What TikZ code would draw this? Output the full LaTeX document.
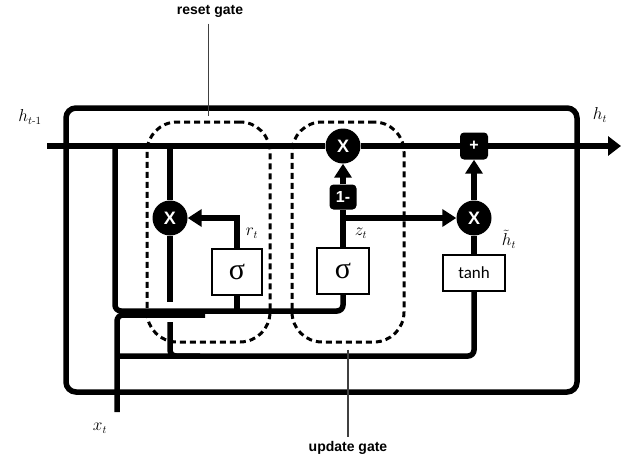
\documentclass[tikz,border=0pt]{standalone}
\usepackage{amsmath}
\usepackage{fontspec}
\setsansfont{Liberation Sans}
\newfontfamily\tanhfont{Carlito}
\newfontfamily\sigfont{Liberation Serif}
\usetikzlibrary{arrows.meta,positioning,calc}

\begin{document}
\begin{tikzpicture}[x=1pt,y=-1pt,>={Triangle[length=14pt,width=17pt]},
  wire/.style={line width=5.5pt},
  lead/.style={line width=1.3pt,black!75},
  gbox/.style={draw,line width=2.4pt,fill=white,inner sep=0pt},
  mul/.style={circle,fill=black,text=white,minimum size=35pt,inner sep=0pt,
              font=\sffamily\bfseries\fontsize{18}{18}\selectfont},
  op/.style={rounded corners=4pt,fill=black,text=white,inner sep=0pt,
             font=\sffamily\bfseries\fontsize{16}{16}\selectfont},
  gate/.style={draw,dash pattern=on 6pt off 4pt,line width=3pt,
               rounded corners=30pt,inner sep=0pt,minimum height=220pt},
  sig/.style={gbox,minimum height=46pt,font=\sigfont\fontsize{30}{30}\selectfont},
  lbl/.style={font=\fontsize{16}{16}\selectfont},
  glbl/.style={font=\sffamily\bfseries\fontsize{14}{14}\selectfont}]
\useasboundingbox (0,0) rectangle (621,463);
\node[gate,minimum width=123pt] (rg) at (208.5,232) {};
\node[gate,minimum width=112pt] (ug) at (348,232) {};
\node[draw,line width=5.5pt,rounded corners=10pt,minimum width=511pt,
      minimum height=284pt] (cell) at (321.5,250) {};
\node[sig,minimum width=50pt] (sr) at (237,272) {σ};
\node[sig,minimum width=52pt] (sz) at (343,271) {σ};
\node[gbox,minimum width=62pt,minimum height=36pt,
      font=\tanhfont\fontsize{17}{17}\selectfont] (th) at (474,273) {tanh};
\node[mul] (rx) at (170,218) {X};
\node[mul] (ux) at (343,146) {X};
\node[mul] (hx) at (474,218) {X};
\node[op,minimum width=28pt,minimum height=27pt] (plus) at (474,146) {+};
\node[op,minimum width=27pt,minimum height=25pt] (om) at (343,197) {1-};
\coordinate (hin) at (47,146);
\coordinate (hout) at (621,146);
\coordinate (hb) at (115,146);
\coordinate (hr) at (170,146);
\coordinate (xin) at (117,412);
\coordinate (jz) at (343,311);
\coordinate (jx) at (205,315);
\coordinate (jh) at (117,356);
\coordinate (gap1) at (170,302);
\coordinate (gap2) at (170,322);
\coordinate (rb) at (200,356);
\coordinate (zb) at (343,218);
\draw[wire] (hin) -- (ux); \draw[wire] (ux) -- (plus);
\draw[wire,->,>={Triangle[length=13pt,width=19pt]}] (plus) -- (hout);
\draw[wire,rounded corners=6pt] (hb) |- (jz) -- (sz.south);
\draw[wire] (sr.south) -- (sr.south |- jz);
\draw[wire,rounded corners=6pt] (xin) |- (jx);
\draw[wire,rounded corners=6pt] (jh) -| (th.south);
\draw[wire] (hr) -- (rx); \draw[wire] (rx) -- (gap1);
\draw[wire,rounded corners=6pt] (gap2) |- (rb);
\draw[wire,->] (sr.north) |- (rx);
\draw[wire] (sz) -- (om); \draw[wire,->] (om) -- (ux);
\draw[wire,->] (zb) -- (hx);
\draw[wire] (th) -- (hx); \draw[wire,->] (hx) -- (plus);
\node[lbl] (hprev) at (30,117) {$h_{t\text{-}1}$};
\node[lbl] (hnext) at (600,115) {$h_t$};
\node[lbl] (xlab) at (100,428) {$x_t$};
\node[lbl] (rlab) at (252,233) {$r_t$};
\node[lbl] (zlab) at (361,233) {$z_t$};
\node[lbl] (hlab) at (509,239) {$\tilde{h}_t$};
\node[glbl] (rgl) at (210,11) {reset gate};
\node[glbl] (ugl) at (348,448) {update gate};
\draw[lead,shorten <=3pt,shorten >=5pt] (rgl.south -| rg) -- (rg.north);
\draw[lead,shorten <=6pt,shorten >=1pt] (ug.south) -- (ugl.north -| ug);
\end{tikzpicture}
\end{document}
